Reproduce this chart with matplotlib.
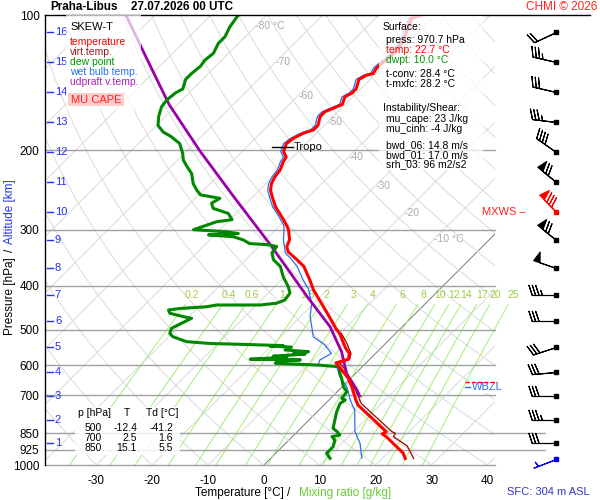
import numpy as np
import matplotlib
matplotlib.use('Agg')
import matplotlib.pyplot as plt
from matplotlib import transforms
from matplotlib.patches import Rectangle
from matplotlib.ticker import NullLocator

plt.rcParams['font.family'] = ['Liberation Sans', 'DejaVu Sans']

# ---------------- data ----------------
station = "Praha-Libus"
time_str = "27.07.2026 00 UTC"

temp_p = [967, 940, 865, 853, 843, 736, 717, 670, 642, 615,
          593, 582, 565, 551, 537, 510, 497, 472, 452, 426,
          408, 388, 362, 350, 336, 327, 316, 300, 293, 285,
          276, 267, 253, 245, 237, 229, 221, 212, 207, 201,
          193, 188, 183, 180, 176, 168, 164, 161, 158, 152,
          149, 146, 139, 136, 135, 131, 128.5, 123, 115, 107,
          101.5, 100]
temp_T = [24.1, 22.7, 16.8, 15.6, 15.9, 6.1, 4.8, 1.7, -0.4, -3.1,
          -5.4, -3.8, -4.7, -6.2, -7.5, -10.0, -11.6, -14.4, -16.8, -20.1,
          -22.5, -24.9, -28.4, -30.8, -33.8, -35.0, -35.7, -37.7, -38.9, -40.4,
          -42.2, -44.1, -46.6, -48.0, -49.0, -49.6, -49.9, -50.8, -51.1, -52.6,
          -53.5, -53.2, -52.3, -51.1, -51.1, -52.3, -52.3, -51.4, -50.5, -51.4,
          -50.8, -50.8, -52.0, -51.4, -50.5, -50.9, -50.8, -50.4, -50.8, -52.4,
          -53.5, -52.1]

virt_p = [967, 907, 865, 850, 843, 730, 681, 647, 609, 593, 582, 565, 537, 510]
virt_T = [25.6, 22.2, 18.1, 17.8, 16.9, 6.4, 2.9, 0.2, -3.0, -4.8, -3.6, -4.4, -6.9, -9.7]

dew_p = [966, 942, 911, 880, 865, 858, 843, 829, 788, 762,
         730, 717, 711, 687, 670, 642, 626, 605, 600, 594,
         587, 584, 582, 576, 573, 567, 565, 560, 555, 547,
         544, 543, 540, 537, 532, 519, 510, 497, 484, 472,
         468, 460, 452.5, 449, 445, 441, 441, 437, 430, 415,
         402, 382, 362, 350, 338, 327, 324, 322, 316, 311,
         308, 306, 303, 300, 288, 285, 276, 269, 262, 255.5,
         251, 245, 237, 225, 217, 210, 203, 193, 186, 182,
         176, 168, 160, 154.5, 149, 146, 139, 135, 130, 126,
         121.6, 115.6, 111.7, 106.2, 100]
dew_Td = [10.6, 9.1, 9.1, 8.2, 7.1, 8.2, 7.1, 5.8, 4.4, 3.5,
          2.6, 2.9, 2.0, 1.7, 0.2, -1.6, -2.8, -4.1, -7.9, -16.2,
          -15.7, -12.3, -21.4, -15.2, -17.8, -12.5, -14.7, -12.3, -16.8, -16.2,
          -20.2, -17.9, -24.1, -31.4, -35.9, -39.2, -40.4, -41.0, -40.1, -39.2,
          -41.0, -44.0, -44.8, -43.1, -38.6, -37.1, -29.3, -26.7, -25.8, -26.1,
          -27.5, -30.2, -32.6, -35.0, -36.5, -36.8, -38.6, -42.2, -44.0, -46.3,
          -51.1, -46.0, -48.7, -54.7, -52.0, -49.6, -51.4, -55.0, -56.2, -55.6,
          -59.7, -61.2, -63.0, -65.1, -67.2, -69.0, -70.3, -72.6, -75.5, -77.6,
          -79.7, -81.2, -82.4, -82.7, -82.4, -81.8, -83.0, -83.0, -82.7, -83.0,
          -82.7, -83.6, -83.6, -84.5, -85.1]

wet_p = [966, 895, 843, 822, 755, 742, 717, 670, 637, 603,
         600, 584, 565, 541, 519, 468, 437, 405, 388, 362,
         350, 338, 316, 300, 293, 285, 276, 267, 253, 245,
         237, 229, 221, 212, 207, 201, 193, 188, 183, 180,
         176, 168, 164, 161, 158, 152, 149, 146, 139, 136,
         135, 131, 128.5, 123, 115, 107, 101.5, 100]
wet_T = [16.3, 13.3, 10.3, 9.4, 6.4, 5.5, 3.8, 0.8, -2.2, -4.7,
         -8.2, -8.8, -7.9, -10.6, -14.1, -18.3, -20.4, -23.7, -26.1, -29.6,
         -31.7, -34.1, -36.8, -38.5, -39.4, -40.9, -42.7, -44.6, -47.1, -48.5,
         -49.5, -50.1, -50.4, -51.3, -51.6, -53.1, -54.0, -53.7, -52.8, -51.6,
         -51.6, -52.8, -52.8, -51.9, -51.0, -51.9, -51.3, -51.3, -52.5, -51.9,
         -51.0, -51.4, -51.3, -50.9, -51.3, -52.9, -54.0, -52.6]

parcel_p = [703, 681, 626, 560, 493, 426, 327, 253, 201, 158, 118.6, 100]
parcel_T = [4.8, 3.2, -1.6, -6.4, -12.9, -21.9, -37.7, -53.5, -67.5, -81.5, -96.4, -105.2]

alt_km = [16, 15, 14, 13, 12, 11, 10, 9, 8, 7, 6, 5, 4, 3, 2, 1]
alt_p = [109.3, 127.4, 148.5, 173.1, 201.9, 235.4, 273.6, 316.2,
         365.5, 419.0, 478.6, 547.7, 622.3, 701.5, 795.6, 894.9]

wind_p = alt_p + [970.7]
wind_dir = [245, 283, 283, 277, 305, 309, 316, 309, 289, 270, 270, 252, 265, 270, 270, 270, 249]
wind_spd = [20, 35, 30, 35, 40, 70, 80, 70, 50, 35, 30, 30, 30, 30, 35, 30, 5]
wind_col = ['k'] * 6 + ['#ff0000'] + ['k'] * 9 + ['#0000ee']

mixing_ratios = [0.2, 0.4, 0.6, 1, 1.5, 2, 3, 4, 6, 8, 10, 12, 14, 17, 20, 25]
mixing_labels = ['0.2', '0.4', '0.6', '1', '1.5', '2', '3', '4', '6', '8', '10', '12', '14', '17', '20', '25']
pressure_levels = [100, 200, 300, 400, 500, 600, 700, 850, 925, 1000]
temp_ticks = [-30, -20, -10, 0, 10, 20, 30, 40]
iso_label_T = [-80, -70, -60, -50, -40, -30, -20, -10]
iso_label_p = [106, 127, 151, 173, 207, 240, 275, 315]
iso_label_txt = ['-80 °C', '-70', '-60', '-50', '-40', '-30', '-20', '-10 °C']

tropo_p = 196
tropo_T = -53.7
fzl_p = 653
wbzl_p = 670
mxws_p = 273.6

surface_lines = [("Surface:", 'k', 383), ("press: 970.7 hPa", 'k', 386),
                 ("temp: 22.7 °C", '#ff0000', 386), ("dwpt: 10.0 °C", '#009900', 386),
                 ("t-conv: 28.4 °C", 'k', 386), ("t-mxfc: 28.2 °C", 'k', 386),
                 ("Instability/Shear:", 'k', 383), ("mu_cape: 23 J/kg", 'k', 386),
                 ("mu_cinh: -4 J/kg", 'k', 386), ("bwd_06: 14.8 m/s", 'k', 386),
                 ("bwd_01: 17.0 m/s", 'k', 386), ("srh_03: 96 m2/s2", 'k', 386)]
surface_y = [27, 40, 50, 60, 74, 84, 108, 119, 129, 145, 155, 164]

table_p = ['500', '700', '850']
table_T = ['-12.4', '2.5', '15.1']
table_Td = ['-41.2', '1.6', '5.5']

# ---------------- geometry helpers ----------------
SKEW = (450 / np.log(10)) / 5.59


def skx(T, p):
    return np.asarray(T, dtype=float) + SKEW * np.log(1000.0 / np.asarray(p, dtype=float))


def mr_td(w, p):
    e = w * p / (622.0 + w)
    a = np.log(e / 6.112)
    return 243.5 * a / (17.67 - a)


fig = plt.figure(figsize=(6, 5), dpi=100)
fig.patch.set_facecolor('white')
px = transforms.Affine2D().scale(1 / 600, -1 / 500).translate(0, 1) + fig.transFigure

ax = fig.add_axes([45 / 600, 35 / 500, 450 / 600, 450 / 500])
ax.set_yscale('log')
ax.set_ylim(1000, 100)
ax.set_xlim((45 - 264) / 5.59, (495 - 264) / 5.59)
ax.set_facecolor('white')
for s in ['top', 'right', 'bottom']:
    ax.spines[s].set_visible(False)
ax.spines['left'].set_color('k')
ax.spines['left'].set_linewidth(1)

# background lattice
pp = np.geomspace(1000, 100, 60)
for t0 in range(-130, 60, 10):
    col = '#777777' if t0 == 0 else '#dadada'
    ax.plot(skx([t0, t0], [1000, 100]), [1000, 100], color=col, lw=0.7, zorder=1)
for th in range(-40, 200, 10):
    tt = (th + 273.15) * (pp / 1000.0) ** 0.2857 - 273.15
    ax.plot(skx(tt, pp), pp, color='#dadada', lw=0.7, zorder=1)

# mixing ratio lines
pm = np.geomspace(1000, 440, 20)
for w, lab in zip(mixing_ratios, mixing_labels):
    ax.plot(skx(mr_td(w, pm), pm), pm, color='#a6ee70', lw=0.7, zorder=2, clip_on=False)
    ax.text(skx(mr_td(w, 420), 420), 420, lab, color='#9ccc44', fontsize=7.5,
            ha='center', va='center', zorder=3, clip_on=False)

# isotherm labels
for t, p, s in zip(iso_label_T, iso_label_p, iso_label_txt):
    ax.text(skx(t, p), p, s, color='#aaaaaa', fontsize=7.5, ha='left', va='center', zorder=3)

# pressure lines
for p in pressure_levels[1:]:
    ext = (545 - 45) / 450 if p in (850, 925) else 1.0
    ax.axhline(p, xmin=0, xmax=ext, color='#a0a0a0', lw=1, zorder=2, clip_on=False)
ax.axhline(100, xmin=0, xmax=(590 - 45) / 450, color='k', lw=1, zorder=6, clip_on=False)

# CAPE shading
pg = np.geomspace(625, 575, 40)
te = np.interp(np.log(pg), np.log(temp_p[::-1]), temp_T[::-1])
tp = np.interp(np.log(pg), np.log(parcel_p[::-1]), parcel_T[::-1])
ax.fill_betweenx(pg, skx(te, pg), skx(tp, pg), where=tp > te, color='#ffb8b8', lw=0, zorder=3)

# profiles
ax.plot(skx(wet_T, wet_p), wet_p, color='#2a6ef0', lw=0.9, zorder=4)
ax.plot(skx(virt_T, virt_p), virt_p, color='#990000', lw=0.9, zorder=4)
ax.plot(skx(parcel_T, parcel_p), parcel_p, color='#9900aa', lw=2.0, zorder=5)
ax.plot(skx(dew_Td, dew_p), dew_p, color='#008800', lw=2.2, zorder=5)
ax.plot(skx(temp_T, temp_p), temp_p, color='#ff0000', lw=2.2, zorder=5)

# tropopause
ax.plot(skx([tropo_T - 1.9, tropo_T + 1.9], [tropo_p, tropo_p]), [tropo_p, tropo_p], color='k', lw=1, zorder=6)
ax.text(skx(tropo_T + 2.1, tropo_p), tropo_p, 'Tropo', fontsize=8, ha='left', va='center', zorder=6)

# axis ticks
ax.set_yticks(pressure_levels)
ax.set_yticklabels([str(p) for p in pressure_levels])
ax.yaxis.set_minor_locator(NullLocator())
ax.tick_params(axis='y', length=0, pad=4, labelsize=8.5)
ax.set_xticks(temp_ticks)
ax.set_xticklabels([str(t) for t in temp_ticks])
ax.tick_params(axis='x', length=0, pad=7, labelsize=8.5)

# altitude ticks
bl = transforms.blended_transform_factory(ax.transAxes, ax.transData)
for km, p in zip(alt_km, alt_p):
    ax.plot([0.005, 0.018], [p, p], color='#2233ee', lw=1, transform=bl, zorder=6)
    ax.text(0.022, p, str(km), color='#2233ee', fontsize=8, ha='left', va='center', transform=bl, zorder=6)

# FZL / WBZL marks
ax.text((472 - 45) / 450, wbzl_p, 'WBZL', color='#2a6ef0', fontsize=8, ha='left', va='center',
        transform=bl, zorder=7, clip_on=False,
        bbox=dict(boxstyle='square,pad=0.15', facecolor='white', edgecolor='none'))
ax.plot([(465 - 45) / 450, (497 - 45) / 450], [fzl_p, fzl_p], color='#ff0000', lw=1, ls=(0, (3, 1.5)),
        transform=bl, zorder=8, clip_on=False)
ax.plot([(465 - 45) / 450, (470 - 45) / 450], [wbzl_p, wbzl_p], color='#2a6ef0', lw=1,
        transform=bl, zorder=8, clip_on=False)
ax.text((482 - 45) / 450, mxws_p, 'MXWS –', color='#ff2222', fontsize=8, ha='left', va='center',
        transform=bl, zorder=7, clip_on=False)

# ---------------- wind barbs ----------------
bax = fig.add_axes([495 / 600, 35 / 500, 105 / 600, 450 / 500])
bax.set_yscale('log')
bax.set_ylim(1000, 100)
bax.set_xlim(0, 1)
bax.axis('off')
xb = (555.5 - 495) / 105
for p, d, s, c in zip(wind_p, wind_dir, wind_spd, wind_col):
    u = -s * np.sin(np.radians(d))
    v = -s * np.cos(np.radians(d))
    bax.barbs([xb], [p], [u], [v], length=5.9, color=c, lw=0.8, clip_on=False,
              sizes=dict(emptybarb=0.0, spacing=0.14, height=0.42, width=0.28))
    bax.plot([xb], [p], 's', color=c, ms=2.5, clip_on=False)

# ---------------- boxes and texts ----------------
fig.patches.append(Rectangle((66, 110), 75, -95, transform=px, facecolor='white', alpha=0.7,
                             edgecolor='none', zorder=2))
fig.patches.append(Rectangle((379, 170), 104, -154, transform=px, facecolor='white', alpha=0.75,
                             edgecolor='none', zorder=2))
fig.patches.append(Rectangle((75, 455), 105, -48, transform=px, facecolor='white', alpha=0.85,
                             edgecolor='none', zorder=2))
fig.patches.append(Rectangle((68, 106), 56, -13, transform=px, facecolor='#ffcccc',
                             edgecolor='none', zorder=3))

fig.text(50, 7, station, transform=px, fontsize=8.4, fontweight='bold', va='center', ha='left')
fig.text(131, 7, time_str, transform=px, fontsize=8.4, fontweight='bold', va='center', ha='left')
fig.text(597, 7, 'CHMI © 2026', transform=px, fontsize=8.5, color='#ff2222', va='center', ha='right')

legend_items = [("SKEW-T", 'k', 27), ("temperature", '#ff0000', 42), ("virt.temp.", '#a01818', 52),
                ("dew point", '#009900', 62), ("wet bulb temp.", '#2a6ef0', 72),
                ("udpraft v.temp.", '#aa22bb', 82)]
for txt, col, y in legend_items:
    fig.text(70, y, txt, transform=px, fontsize=8 if txt == "SKEW-T" else 7.5, color=col,
             va='center', ha='left', zorder=4)
fig.text(96, 100, 'MU CAPE', transform=px, fontsize=8, color='#ff2222', va='center', ha='center', zorder=4)

for (txt, col, x), y in zip(surface_lines, surface_y):
    fig.text(x, y, txt, transform=px, fontsize=7.5, color=col, va='center', ha='left', zorder=4)

fig.text(78, 413, 'p [hPa]', transform=px, fontsize=7.5, va='center', ha='left', zorder=4)
fig.text(127, 413, 'T', transform=px, fontsize=7.5, va='center', ha='center', zorder=4)
fig.text(146, 413, 'Td [°C]', transform=px, fontsize=7.5, va='center', ha='left', zorder=4)
for i, (a, b, c) in enumerate(zip(table_p, table_T, table_Td)):
    y = 428 + 10 * i
    fig.text(102, y, a, transform=px, fontsize=7.5, va='center', ha='right', zorder=4)
    fig.text(137, y, b, transform=px, fontsize=7.5, va='center', ha='right', zorder=4)
    fig.text(173, y, c, transform=px, fontsize=7.5, va='center', ha='right', zorder=4)

fig.text(10, 296, 'Pressure [hPa]', transform=px, fontsize=8.5, rotation=90, va='center', ha='center')
fig.text(10, 250, '/', transform=px, fontsize=8.5, rotation=90, va='center', ha='center')
fig.text(10, 212, 'Altitude [km]', transform=px, fontsize=8.5, rotation=90, va='center', ha='center',
         color='#2233ee')
fig.text(239, 493, 'Temperature [°C]', transform=px, fontsize=8.5, va='center', ha='center')
fig.text(289, 493, '/', transform=px, fontsize=8.5, va='center', ha='center')
fig.text(345, 493, 'Mixing ratio [g/kg]', transform=px, fontsize=8.5, va='center', ha='center',
         color='#66cc33')
fig.text(590, 492, 'SFC: 304 m ASL', transform=px, fontsize=8, va='center', ha='right', color='#3333cc')

fig.savefig('out.png', dpi=100, facecolor='white')
